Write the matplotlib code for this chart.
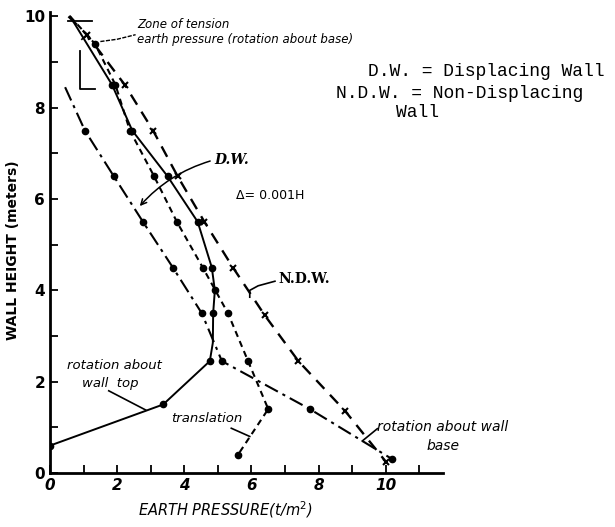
import matplotlib
matplotlib.use("Agg")
import matplotlib.pyplot as plt
import numpy as np

# ---- data ----
# rotation about wall top (solid)
top_x = [0.6, 1.85, 2.45, 3.5, 4.4, 4.82, 4.91, 4.86, 4.85, 4.76, 3.37, 0.0]
top_y = [10.0, 8.5, 7.5, 6.5, 5.5, 4.5, 4.0, 3.5, 2.85, 2.45, 1.5, 0.6]
top_mark = [1, 2, 3, 4, 5, 6, 7, 9, 10, 11]

# translation (short dashes)
tr_x = [0.6, 1.34, 1.95, 2.38, 3.1, 3.78, 4.55, 5.3, 5.9, 6.5, 5.6]
tr_y = [10.0, 9.4, 8.5, 7.5, 6.5, 5.5, 4.5, 3.5, 2.45, 1.4, 0.4]

# rotation about wall base (dash-dot)
base_x = [0.45, 1.04, 1.9, 2.77, 3.66, 4.52, 5.12, 7.74, 10.2]
base_y = [8.45, 7.5, 6.5, 5.5, 4.5, 3.5, 2.45, 1.4, 0.3]

# non-displacing wall (dashed, x markers)
ndw_x = [0.55, 1.1, 2.23, 3.07, 3.8, 4.6, 5.45, 6.4, 7.4, 8.8, 10.0]
ndw_y = [10.0, 9.6, 8.5, 7.5, 6.5, 5.5, 4.5, 3.45, 2.45, 1.35, 0.25]

x_major = [0, 2, 4, 6, 8, 10]
y_major = [0, 2, 4, 6, 8, 10]

fig = plt.figure(figsize=(6.15, 5.27), dpi=100)
ax = fig.add_axes([0.0813, 0.1025, 0.6387, 0.875])
ax.set_xlim(0, 11.7)
ax.set_ylim(0, 10.1)

k = 'black'
ax.plot(top_x, top_y, color=k, lw=1.4, ls='-')
ax.plot([top_x[i] for i in top_mark], [top_y[i] for i in top_mark], 'o', color=k, ms=4.5)
ax.plot(tr_x, tr_y, color=k, lw=1.5, ls=(0, (3, 2.2)))
ax.plot(tr_x[1:], tr_y[1:], 'o', color=k, ms=4.5)
ax.plot(base_x, base_y, color=k, lw=1.5, ls=(0, (7, 2.5, 1.5, 2.5)))
ax.plot(base_x[1:], base_y[1:], 'o', color=k, ms=4.5)
ax.plot(ndw_x, ndw_y, color=k, lw=1.7, ls=(0, (5, 3.5)))
ax.plot(ndw_x[1:], ndw_y[1:], 'x', color=k, ms=4, mew=1.5)

# spines / ticks
for s in ['top', 'right']:
    ax.spines[s].set_visible(False)
for s in ['left', 'bottom']:
    ax.spines[s].set_linewidth(2)
ax.set_xticks(x_major)
ax.set_xticks(np.arange(0, 12, 1), minor=True)
ax.set_yticks(y_major)
ax.set_yticks(np.arange(0, 11, 1), minor=True)
ax.set_xticklabels([str(v) for v in x_major], fontstyle='italic', fontweight='bold', fontsize=11)
ax.set_yticklabels([str(v) for v in y_major], fontweight='bold', fontsize=11)
ax.tick_params(which='both', direction='in', length=6, width=1.3)

# zone of tension bracket
ax.plot([0.54, 1.25], [9.9, 9.9], color=k, lw=1.3)
ax.plot([0.9, 0.9, 1.34], [9.25, 8.4, 8.4], color=k, lw=1.3)
ax.plot([0.95, 1.1, 1.15], [9.5, 9.6, 9.5], color=k, lw=1.2)

it = dict(fontstyle='italic', fontsize=8.5, color=k)
ax.text(2.6, 9.75, 'Zone of tension', **it)
ax.text(2.6, 9.42, 'earth pressure (rotation about base)', **it)
ax.plot([1.5, 2.0, 2.55], [9.45, 9.5, 9.6], color=k, lw=1.0, ls=(0, (3, 1)))

ax.text(4.9, 6.85, 'D.W.', fontfamily='DejaVu Serif', fontweight='bold', fontstyle='italic', fontsize=10, va='center')
ax.annotate('', xy=(2.62, 5.8), xytext=(4.85, 6.85),
            arrowprops=dict(arrowstyle='->', color=k, lw=1.1, connectionstyle='arc3,rad=0.15'))
ax.text(5.55, 6.08, 'Δ= 0.001H', fontsize=9, va='center')

ax.text(6.8, 4.25, 'N.D.W.', fontfamily='DejaVu Serif', fontweight='bold', fontsize=10, va='center')
ax.plot([6.7, 6.2, 5.95, 5.95], [4.2, 4.1, 4.0, 3.85], color=k, lw=1.2)

ax.text(0.5, 2.35, 'rotation about', fontstyle='italic', fontsize=9.5, va='center')
ax.text(0.95, 1.95, 'wall  top', fontstyle='italic', fontsize=9.5, va='center')
ax.plot([1.75, 2.85], [1.8, 1.38], color=k, lw=1.2)

ax.text(3.6, 1.2, 'translation', fontstyle='italic', fontsize=9.5, va='center')
ax.plot([5.4, 5.95], [0.98, 0.8], color=k, lw=1.2)

ax.text(9.75, 1.0, 'rotation about wall', fontstyle='italic', fontsize=10, va='center', clip_on=False)
ax.text(11.2, 0.6, 'base', fontstyle='italic', fontsize=10, va='center', clip_on=False)
ax.plot([9.75, 9.3], [0.97, 0.7], color=k, lw=1.2)

# legend text (typewriter)
mono = dict(fontfamily='Liberation Mono', fontsize=13, color=k)
fig.text(368 / 615, 1 - 72 / 527, 'D.W. = Displacing Wall', va='center', **mono)
fig.text(336 / 615, 1 - 93 / 527, 'N.D.W. = Non-Displacing', va='center', **mono)
fig.text(396 / 615, 1 - 113 / 527, 'Wall', va='center', **mono)

fig.text(0.021, 0.526, 'WALL HEIGHT (meters)', rotation=90, ha='center', va='center',
         fontsize=10, fontweight='bold')
fig.text(0.366, 0.032, 'EARTH PRESSURE(t/m$^2$)', ha='center', va='center',
         fontsize=10.5, fontstyle='italic')

fig.savefig('out.png', dpi=100, facecolor='white')
